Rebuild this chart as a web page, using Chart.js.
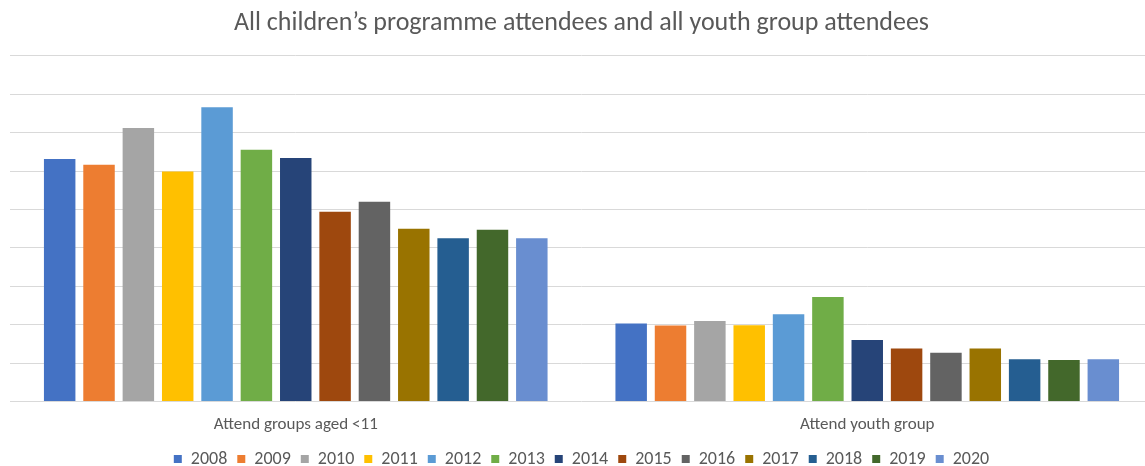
<!DOCTYPE html>
<html>
<head>
<meta charset="utf-8">
<script src="https://cdn.jsdelivr.net/npm/chart.js@4"></script>
<style>
  html, body { margin: 0; padding: 0; background: #fff; overflow: hidden; }
  #wrap { position: relative; width: 1153px; height: 478px; }
</style>
</head>
<body>
<div id="wrap"><canvas id="chart"></canvas></div>
<script>
const groups = ["Attend groups aged <11", "Attend youth group"];
const years = ["2008", "2009", "2010", "2011", "2012", "2013", "2014", "2015", "2016", "2017", "2018", "2019", "2020"];
const under11 = [6.31, 6.16, 7.12, 5.99, 7.66, 6.55, 6.34, 4.94, 5.20, 4.50, 4.25, 4.47, 4.25];
const youth = [2.03, 1.98, 2.10, 1.99, 2.27, 2.72, 1.60, 1.38, 1.27, 1.38, 1.10, 1.08, 1.10];
const colours = ["#4472C4", "#ED7D31", "#A5A5A5", "#FFC000", "#5B9BD5", "#70AD47", "#264478",
                 "#9E480E", "#636363", "#997300", "#255E91", "#43682B", "#698ED0"];

const FONT = "Carlito, Calibri, 'Liberation Sans', sans-serif";
const GREY = "#595959";

const datasets = years.map((y, i) => ({
  label: y,
  data: [under11[i], youth[i]],
  backgroundColor: colours[i],
  borderWidth: 0,
  categoryPercentage: 0.895,
  barPercentage: 0.8,
}));

new Chart(document.getElementById("chart"), {
  type: "bar",
  data: { labels: groups, datasets },
  options: {
    responsive: true,
    maintainAspectRatio: false,
    animation: false,
    layout: { padding: { left: 10, right: 0, top: 0, bottom: 0 } },
    plugins: {
      title: {
        display: true,
        text: "All children\u2019s programme attendees and all youth group attendees",
        color: GREY,
        font: { family: FONT, size: 26, weight: "normal" },
        padding: { top: 8, bottom: 16.5 },
      },
      legend: {
        position: "bottom",
        labels: {
          color: GREY,
          font: { family: FONT, size: 18 },
          boxWidth: 8,
          boxHeight: 8,
          padding: 10,
        },
      },
      tooltip: { enabled: false },
    },
    scales: {
      x: {
        grid: { display: false },
        border: { display: false },
        ticks: { color: GREY, font: { family: FONT, size: 17, lineHeight: 1.67 }, padding: 1 },
      },
      y: {
        min: 0,
        max: 9,
        ticks: { display: false, stepSize: 1 },
        border: { display: false },
        grid: { color: "#d9d9d9", lineWidth: 1, drawTicks: false },
      },
    },
  },
});
</script>
</body>
</html>
